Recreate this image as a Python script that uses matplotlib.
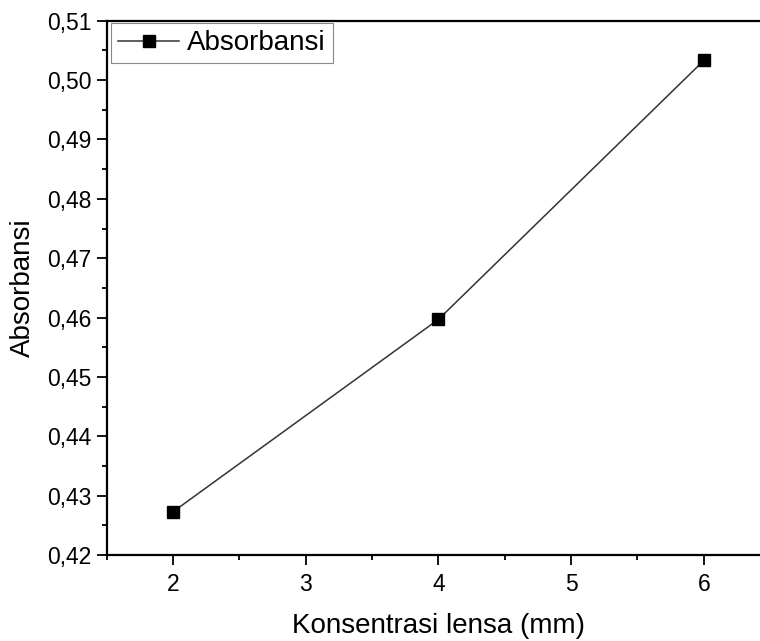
import matplotlib
matplotlib.use('Agg')
import matplotlib.pyplot as plt
from matplotlib.ticker import MultipleLocator, FuncFormatter

# data
konsentrasi = [2, 4, 6]
absorbansi = [0.4273, 0.4597, 0.5033]

plt.rcParams['font.family'] = ['Liberation Sans', 'DejaVu Sans']

fig = plt.figure(figsize=(7.6, 6.41), dpi=100)
ax = fig.add_axes([0.1404, 0.134, 0.873, 0.8337])

ax.plot(konsentrasi, absorbansi, color='#333333', lw=1.1, marker='s',
        markersize=8.5, markerfacecolor='black', markeredgecolor='black',
        label='Absorbansi')

ax.set_xlim(1.5, 6.5)
ax.set_ylim(0.42, 0.51)
ax.xaxis.set_major_locator(MultipleLocator(1))
ax.xaxis.set_minor_locator(MultipleLocator(0.5))
ax.yaxis.set_major_locator(MultipleLocator(0.01))
ax.yaxis.set_minor_locator(MultipleLocator(0.005))
ax.yaxis.set_major_formatter(FuncFormatter(lambda v, p: f'{v:.2f}'.replace('.', ',')))

for s in ax.spines.values():
    s.set_linewidth(1.6)
ax.tick_params(which='major', direction='out', length=7, width=1.3, labelsize=16.5)
ax.tick_params(axis='x', which='major', pad=6)
ax.tick_params(axis='y', which='major', pad=4)
ax.tick_params(which='minor', direction='out', length=3.5, width=1.3)

ax.set_xlabel('Konsentrasi lensa (mm)', fontsize=20, labelpad=12)
ax.set_ylabel('Absorbansi', fontsize=20, labelpad=8)

leg = ax.legend(loc='upper left', bbox_to_anchor=(0.0065, 0.995), borderaxespad=0,
                fontsize=20, fancybox=False, framealpha=1, edgecolor='#888888',
                handlelength=2.2, handletextpad=0.3, borderpad=0.25)
leg.get_frame().set_linewidth(0.8)

fig.savefig('out.png', dpi=100)
